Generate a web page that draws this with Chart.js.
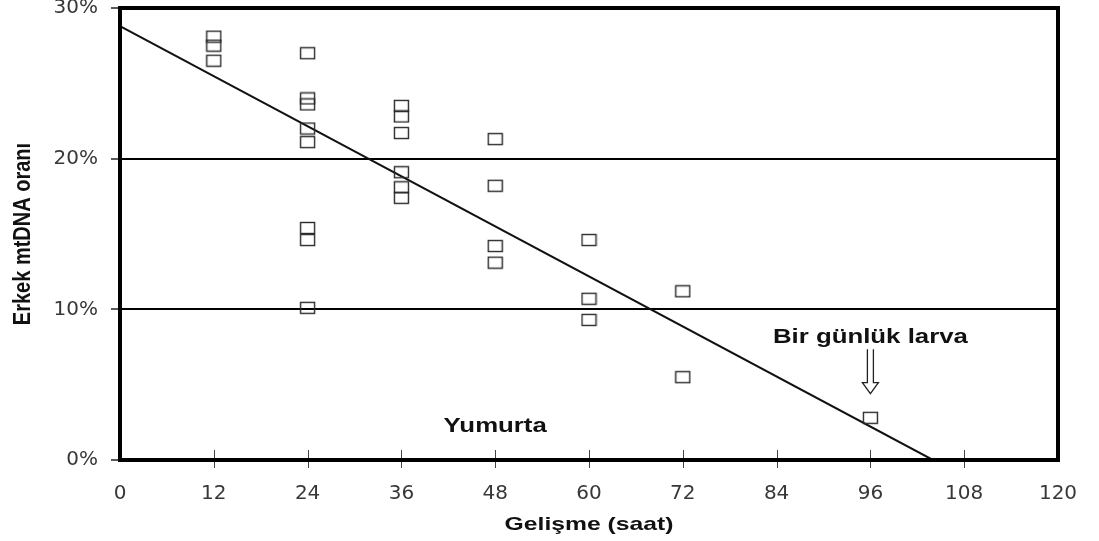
<!DOCTYPE html>
<html>
<head>
<meta charset="utf-8">
<script src="https://cdn.jsdelivr.net/npm/chart.js@4"></script>
<style>
  html, body { margin: 0; padding: 0; background: #fff; }
  #wrap { width: 1099px; height: 541px; position: relative; }
</style>
</head>
<body>
<div id="wrap"><canvas id="chart"></canvas></div>
<script>
"use strict";

// Development time (hours) and male mtDNA share (%) — one entry per square
const hours = [12, 12, 12,
  24, 24, 24, 24, 24, 24, 24, 24,
  36, 36, 36, 36, 36, 36,
  48, 48, 48, 48,
  60, 60, 60,
  72, 72,
  96];
const maleShare = [28.1, 27.5, 26.5,
  27.0, 24.0, 23.6, 22.0, 21.1, 15.4, 14.6, 10.1,
  23.5, 22.8, 21.7, 19.1, 18.1, 17.4,
  21.3, 18.2, 14.2, 13.1,
  14.6, 10.7, 9.3,
  11.2, 5.5,
  2.8];

// Regression line end points
const trendHours = [0, 104];
const trendShare = [28.8, 0];

const xTicks = [0, 12, 24, 36, 48, 60, 72, 84, 96, 108, 120];
const yTicks = [0, 10, 20, 30];

const xTitle = "Gelişme (saat)";
const yTitle = "Erkek mtDNA oranı";

// Annotations, in data units (hours, %)
const larvaLabel = "Bir günlük larva";
const larvaAt = [96, 8.1];
const arrowFrom = [96, 7.35];
const arrowTo = [96, 4.4];
const eggLabel = "Yumurta";
const eggAt = [48, 2.25];

// ---- Helpers ----

function boxMarker() {
  const c = document.createElement("canvas");
  c.width = 17; c.height = 14;
  const g = c.getContext("2d");
  g.strokeStyle = "#2b2b2b";
  g.lineWidth = 1.4;
  g.strokeRect(1.5, 1.5, 14, 11);
  return c;
}

// the scan is stretched sideways, so the bold labels are too
function wideText(ctx, text, x, y, font, sx, rot) {
  ctx.save();
  ctx.translate(x, y);
  if (rot) ctx.rotate(rot);
  if (rot) ctx.scale(1, sx); else ctx.scale(sx, 1);
  ctx.font = font;
  ctx.fillStyle = "#111";
  ctx.textAlign = "center";
  ctx.textBaseline = "middle";
  ctx.fillText(text, 0, 0);
  ctx.restore();
}

const framePlugin = {
  id: "frame",
  afterDraw(chart) {
    const { ctx, chartArea: a, scales: { x, y } } = chart;
    ctx.save();

    // tick marks crossing the bottom axis
    ctx.strokeStyle = "#444";
    ctx.lineWidth = 1;
    for (const t of xTicks) {
      if (t === xTicks[0] || t === xTicks[xTicks.length - 1]) continue;
      const px = Math.round(x.getPixelForValue(t)) + 0.5;
      ctx.beginPath();
      ctx.moveTo(px, a.bottom - 10);
      ctx.lineTo(px, a.bottom + 8);
      ctx.stroke();
    }

    // heavy box round the plot
    ctx.strokeStyle = "#000";
    ctx.lineWidth = 4;
    ctx.strokeRect(a.left, a.top, a.right - a.left, a.bottom - a.top);

    // hollow arrow above the larva point
    const ax = x.getPixelForValue(arrowFrom[0]);
    const top = y.getPixelForValue(arrowFrom[1]);
    const tip = y.getPixelForValue(arrowTo[1]);
    ctx.strokeStyle = "#222";
    ctx.lineWidth = 1.3;
    ctx.beginPath();
    ctx.moveTo(ax - 3, top);
    ctx.lineTo(ax - 3, tip - 11);
    ctx.lineTo(ax - 8, tip - 11);
    ctx.lineTo(ax, tip);
    ctx.lineTo(ax + 8, tip - 11);
    ctx.lineTo(ax + 3, tip - 11);
    ctx.lineTo(ax + 3, top);
    ctx.stroke();

    wideText(ctx, larvaLabel, x.getPixelForValue(larvaAt[0]), y.getPixelForValue(larvaAt[1]),
      "bold 20px 'Liberation Sans'", 1.29);
    wideText(ctx, eggLabel, x.getPixelForValue(eggAt[0]), y.getPixelForValue(eggAt[1]),
      "bold 20px 'Liberation Sans'", 1.29);

    // axis titles
    wideText(ctx, xTitle, (a.left + a.right) / 2, a.bottom + 65, "bold 19px 'Liberation Sans'", 1.3);
    wideText(ctx, yTitle, 23, (a.top + a.bottom) / 2, "bold 20px 'Liberation Sans'", 1.2, -Math.PI / 2);

    ctx.restore();
  },
};

// ---- Chart ----

const points = hours.map((h, i) => ({ x: h, y: maleShare[i] }));
const trend = trendHours.map((h, i) => ({ x: h, y: trendShare[i] }));
const tickFont = { family: "DejaVu Sans", size: 20 };

new Chart(document.getElementById("chart"), {
  type: "scatter",
  data: {
    datasets: [
      {
        label: "trend",
        data: trend,
        showLine: true,
        borderColor: "#111",
        borderWidth: 2,
        pointRadius: 0,
        order: 2,
      },
      {
        label: "samples",
        data: points,
        pointStyle: boxMarker(),
        pointRadius: 7,
        order: 1,
      },
    ],
  },
  options: {
    responsive: true,
    maintainAspectRatio: false,
    animation: false,
    layout: { padding: { top: 7, right: 41, left: 0, bottom: 0 } },
    plugins: { legend: { display: false }, tooltip: { enabled: false } },
    scales: {
      x: {
        type: "linear",
        min: 0,
        max: 120,
        afterBuildTicks: (s) => { s.ticks = xTicks.map(v => ({ value: v })); },
        afterFit: (s) => { s.height = 81; s.paddingLeft = 0; s.paddingRight = 0; },
        ticks: { font: tickFont, color: "#383838", padding: 22, maxRotation: 0 },
        grid: { display: false, drawTicks: false },
        border: { display: false },
      },
      y: {
        min: 0,
        max: 30,
        afterBuildTicks: (s) => { s.ticks = yTicks.map(v => ({ value: v })); },
        afterFit: (s) => { s.width = 120; s.paddingTop = 0; s.paddingBottom = 0; },
        ticks: { font: tickFont, color: "#383838", padding: 13, callback: (v) => v + "%" },
        grid: { color: "#000", lineWidth: 2, tickLength: 9, tickColor: "#222", tickWidth: 1.5 },
        border: { display: false },
      },
    },
  },
  plugins: [framePlugin],
});
</script>
</body>
</html>
